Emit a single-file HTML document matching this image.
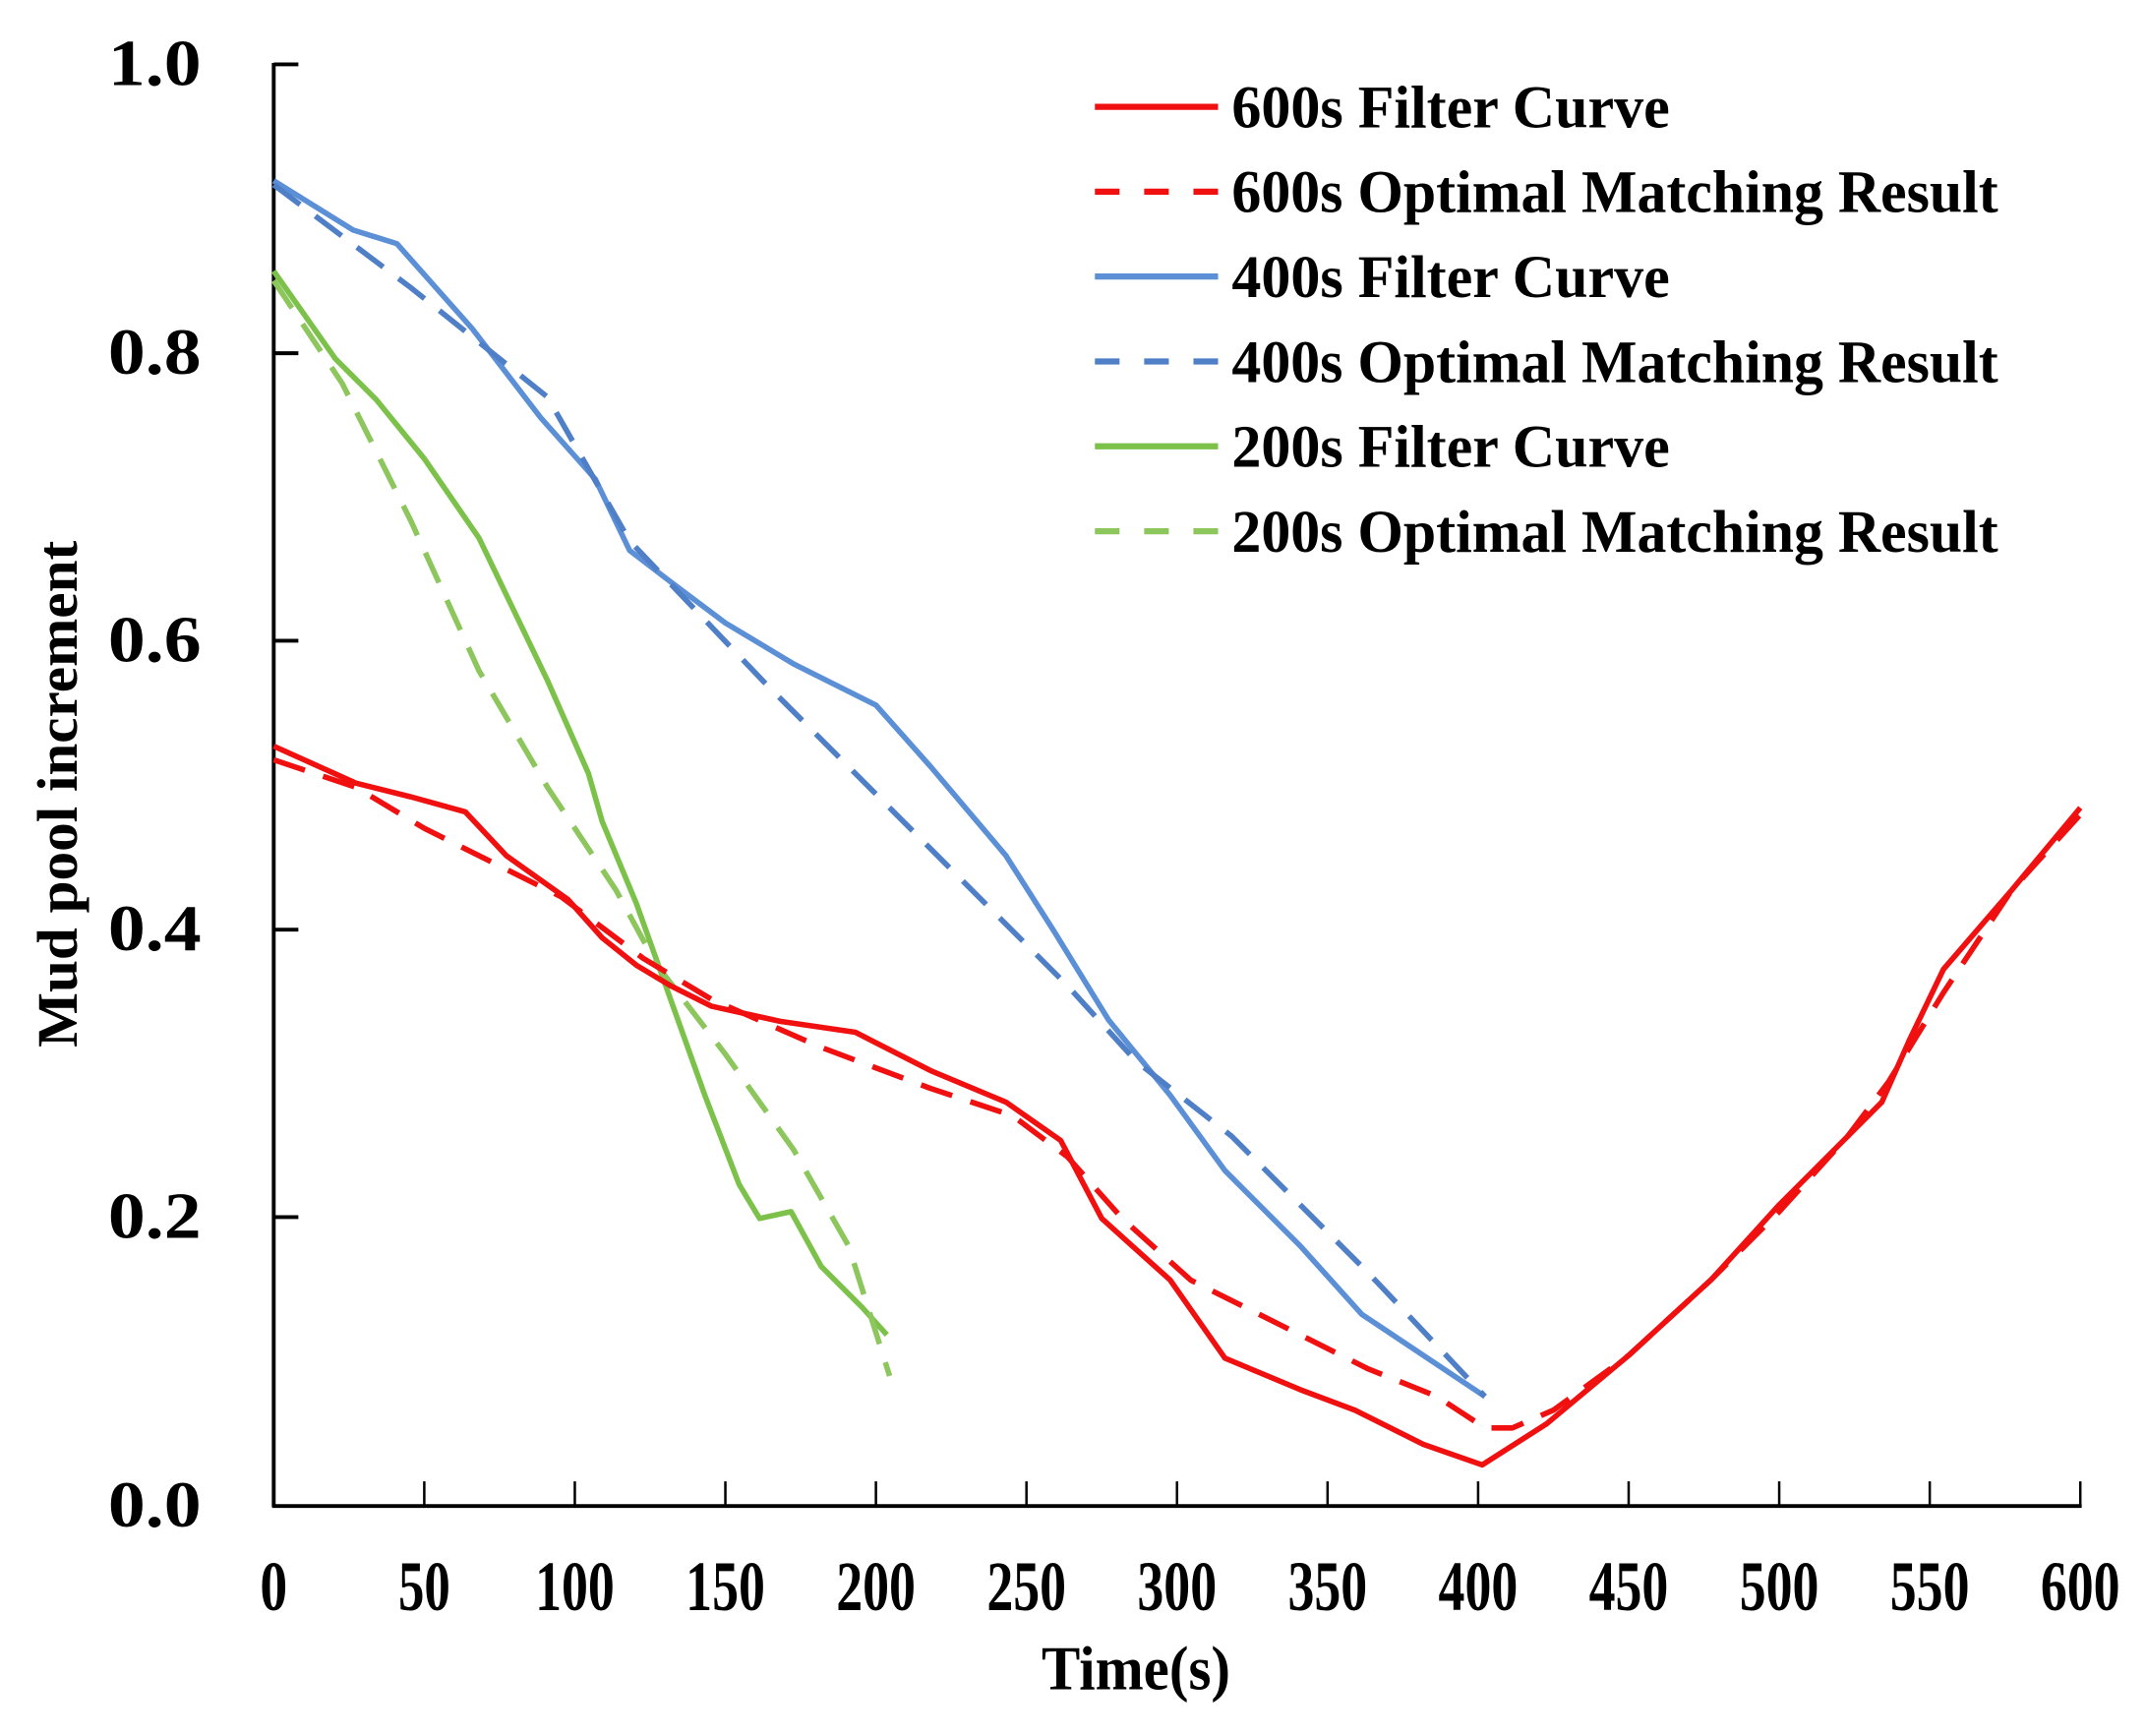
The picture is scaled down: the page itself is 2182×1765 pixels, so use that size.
<!DOCTYPE html>
<html><head><meta charset="utf-8"><style>html,body{margin:0;padding:0;background:#fff}svg{display:block}</style></head>
<body>
<svg width="2182" height="1765" viewBox="0 0 1568 1268" preserveAspectRatio="none" xmlns="http://www.w3.org/2000/svg" font-family="'Liberation Serif',serif" font-weight="bold">
<rect width="1568" height="1268" fill="#fff"/>
<g stroke="#000" stroke-width="2.8" fill="none">
<line x1="200" y1="46" x2="200" y2="1101"/>
<line x1="199" y1="1100" x2="1521" y2="1100"/>
<line x1="200" y1="47" x2="218" y2="47"/>
<line x1="200" y1="258" x2="218" y2="258"/>
<line x1="200" y1="468" x2="218" y2="468"/>
<line x1="200" y1="679" x2="218" y2="679"/>
<line x1="200" y1="889" x2="218" y2="889"/>
<g stroke-width="1.8">
<line x1="310" y1="1100" x2="310" y2="1082"/><line x1="420" y1="1100" x2="420" y2="1082"/>
<line x1="530" y1="1100" x2="530" y2="1082"/><line x1="640" y1="1100" x2="640" y2="1082"/>
<line x1="750" y1="1100" x2="750" y2="1082"/><line x1="860" y1="1100" x2="860" y2="1082"/>
<line x1="970" y1="1100" x2="970" y2="1082"/><line x1="1080" y1="1100" x2="1080" y2="1082"/>
<line x1="1190" y1="1100" x2="1190" y2="1082"/><line x1="1300" y1="1100" x2="1300" y2="1082"/>
<line x1="1410" y1="1100" x2="1410" y2="1082"/><line x1="1520" y1="1100" x2="1520" y2="1082"/>
</g></g>
<g font-size="48" text-anchor="end">
<text x="147" y="62" textLength="68" lengthAdjust="spacingAndGlyphs">1.0</text>
<text x="147" y="273" textLength="68" lengthAdjust="spacingAndGlyphs">0.8</text>
<text x="147" y="483" textLength="68" lengthAdjust="spacingAndGlyphs">0.6</text>
<text x="147" y="694" textLength="68" lengthAdjust="spacingAndGlyphs">0.4</text>
<text x="147" y="904" textLength="68" lengthAdjust="spacingAndGlyphs">0.2</text>
<text x="147" y="1115" textLength="68" lengthAdjust="spacingAndGlyphs">0.0</text>
</g>
<g font-size="52" text-anchor="middle">
<text x="200" y="1176" textLength="20" lengthAdjust="spacingAndGlyphs">0</text>
<text x="310" y="1176" textLength="38" lengthAdjust="spacingAndGlyphs">50</text>
<text x="420" y="1176" textLength="58" lengthAdjust="spacingAndGlyphs">100</text>
<text x="530" y="1176" textLength="58" lengthAdjust="spacingAndGlyphs">150</text>
<text x="640" y="1176" textLength="58" lengthAdjust="spacingAndGlyphs">200</text>
<text x="750" y="1176" textLength="58" lengthAdjust="spacingAndGlyphs">250</text>
<text x="860" y="1176" textLength="58" lengthAdjust="spacingAndGlyphs">300</text>
<text x="970" y="1176" textLength="58" lengthAdjust="spacingAndGlyphs">350</text>
<text x="1080" y="1176" textLength="58" lengthAdjust="spacingAndGlyphs">400</text>
<text x="1190" y="1176" textLength="58" lengthAdjust="spacingAndGlyphs">450</text>
<text x="1300" y="1176" textLength="58" lengthAdjust="spacingAndGlyphs">500</text>
<text x="1410" y="1176" textLength="58" lengthAdjust="spacingAndGlyphs">550</text>
<text x="1520" y="1176" textLength="58" lengthAdjust="spacingAndGlyphs">600</text>
</g>
<text x="830" y="1234" font-size="46" text-anchor="middle" textLength="138" lengthAdjust="spacingAndGlyphs">Time(s)</text>
<text transform="translate(56,580) rotate(-90)" font-size="42" text-anchor="middle" textLength="370" lengthAdjust="spacingAndGlyphs">Mud pool increment</text>
<g fill="none" stroke-width="4" stroke-linejoin="round">
<polyline stroke="#5b8fd6" points="200,132 258,168 290,178 345,240 395,305 435,350 460,402 490,425 530,455 580,485 640,515 680,560 735,625 770,680 810,745 855,800 895,855 950,910 995,960 1085,1020"/>
<polyline stroke="#4f7fc6" stroke-dasharray="24,14" points="200,135 300,210 400,290 460,395 560,500 680,620 780,720 830,775 900,830 1000,930 1085,1020"/>
<polyline stroke="#7cc24a" points="200,198 245,262 275,292 310,335 350,393 400,497 430,565 440,600 465,660 490,730 515,800 540,865 555,890 578,885 600,925 630,955 648,975"/>
<polyline stroke="#8cc65c" stroke-dasharray="24,14" points="200,205 250,280 300,380 350,490 400,575 450,650 480,705 530,770 580,840 620,910 650,1005"/>
<polyline stroke="#f01010" points="200,545 260,572 300,582 340,593 370,625 415,657 440,685 465,705 490,720 520,735 570,746 625,754 680,782 735,805 775,833 805,890 855,935 895,992 950,1015 990,1030 1040,1055 1083,1070 1130,1040 1190,990 1250,935 1300,880 1350,830 1375,805 1395,760 1420,708 1470,650 1520,590"/>
<polyline stroke="#f01010" stroke-dasharray="24,14" points="200,555 260,575 310,605 360,630 410,655 470,700 520,730 600,765 680,795 740,815 780,845 820,890 870,935 920,960 1000,1000 1050,1020 1085,1043 1105,1043 1135,1030 1190,990 1250,935 1300,885 1350,830 1380,790 1420,725 1470,650 1520,595"/>
</g>
<g stroke-width="4.5">
<line x1="800" y1="78" x2="890" y2="78" stroke="#f01010"/>
<line x1="800" y1="140" x2="890" y2="140" stroke="#f01010" stroke-dasharray="18,18"/>
<line x1="800" y1="202" x2="890" y2="202" stroke="#5b8fd6"/>
<line x1="800" y1="264" x2="890" y2="264" stroke="#4f7fc6" stroke-dasharray="18,18"/>
<line x1="800" y1="326" x2="890" y2="326" stroke="#7cc24a"/>
<line x1="800" y1="388" x2="890" y2="388" stroke="#8cc65c" stroke-dasharray="18,18"/>
</g>
<g font-size="44">
<text x="900" y="93" textLength="320" lengthAdjust="spacingAndGlyphs">600s Filter Curve</text>
<text x="900" y="155" textLength="560" lengthAdjust="spacingAndGlyphs">600s Optimal Matching Result</text>
<text x="900" y="217" textLength="320" lengthAdjust="spacingAndGlyphs">400s Filter Curve</text>
<text x="900" y="279" textLength="560" lengthAdjust="spacingAndGlyphs">400s Optimal Matching Result</text>
<text x="900" y="341" textLength="320" lengthAdjust="spacingAndGlyphs">200s Filter Curve</text>
<text x="900" y="403" textLength="560" lengthAdjust="spacingAndGlyphs">200s Optimal Matching Result</text>
</g>
</svg>
</body></html>
